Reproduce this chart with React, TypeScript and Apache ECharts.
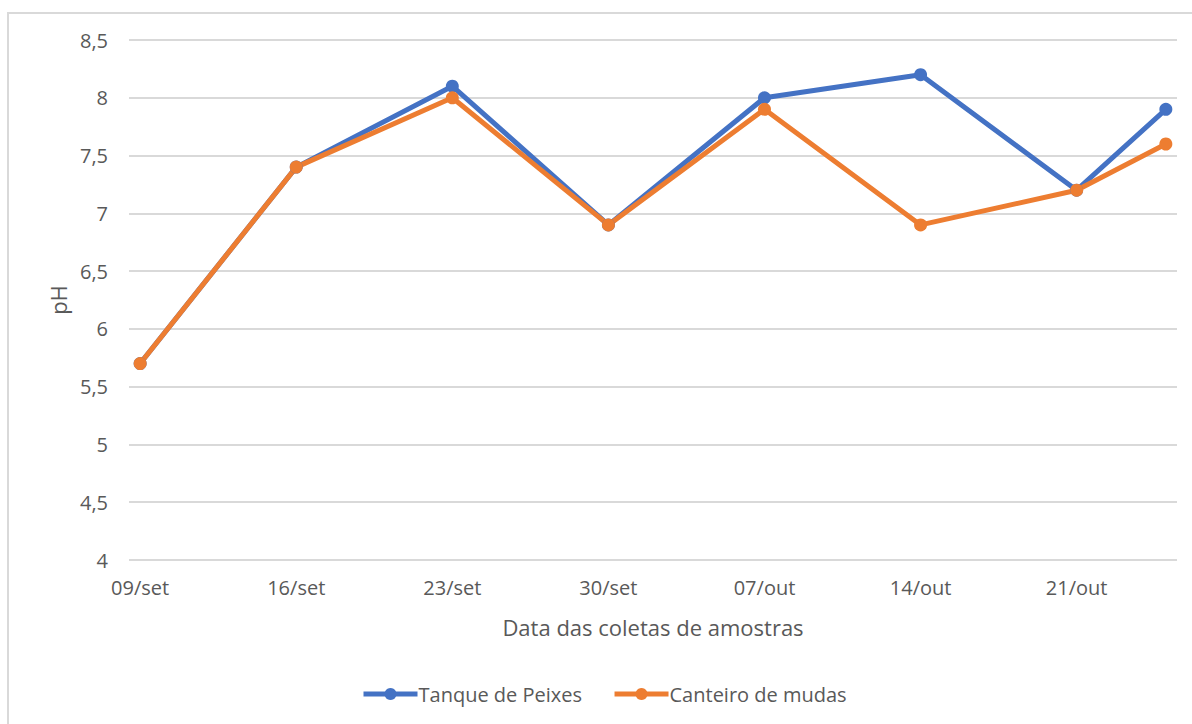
import React, { useEffect, useRef } from "react";
import * as echarts from "echarts";

const dates = ["2021-09-09", "2021-09-16", "2021-09-23", "2021-09-30", "2021-10-07", "2021-10-14", "2021-10-21", "2021-10-25"];
const tickDates = ["2021-09-09", "2021-09-16", "2021-09-23", "2021-09-30", "2021-10-07", "2021-10-14", "2021-10-21"];
const tickLabels = ["09/set", "16/set", "23/set", "30/set", "07/out", "14/out", "21/out"];
const tanque = [5.7, 7.4, 8.1, 6.9, 8.0, 8.2, 7.2, 7.9];
const canteiro = [5.7, 7.4, 8.0, 6.9, 7.9, 6.9, 7.2, 7.6];

const DAY = 86400000;
const t0 = Date.parse(dates[0]);
const dayOf = (d: string) => Math.round((Date.parse(d) - t0) / DAY);
const xs = dates.map(dayOf);
const tickXs = tickDates.map(dayOf);

const FONT = "'Open Sans', 'Noto Sans', sans-serif";
const GRAY = "#595959";

export default function App() {
  const ref = useRef<HTMLDivElement>(null);
  useEffect(() => {
    document.body.style.margin = "0";
    const chart = echarts.init(ref.current!, null, { renderer: "svg" });
    chart.setOption({
      animation: false,
      backgroundColor: "#fff",
      textStyle: { fontFamily: FONT },
      graphic: [
        {
          type: "polyline",
          shape: { points: [[8, 730], [8, 13], [1200, 13]] },
          style: { fill: "none", stroke: "#d9d9d9", lineWidth: 2 },
          silent: true,
        },
      ],
      grid: { left: 129, right: 15, top: 40, bottom: 164 },
      xAxis: {
        type: "value",
        min: -0.5,
        max: xs[xs.length - 1] + 0.5,
        name: "Data das coletas de amostras",
        nameLocation: "middle",
        nameGap: 56,
        nameTextStyle: { color: GRAY, fontSize: 22, fontFamily: FONT },
        axisLine: { show: false },
        axisTick: { show: false },
        splitLine: { show: false },
        axisLabel: {
          customValues: tickXs,
          color: GRAY,
          fontSize: 20,
          fontFamily: FONT,
          margin: 17,
          formatter: (v: number) => {
            const i = tickXs.indexOf(Math.round(v));
            return i >= 0 ? tickLabels[i] : "";
          },
        },
      },
      yAxis: {
        type: "value",
        min: 4,
        max: 8.5,
        interval: 0.5,
        name: "pH",
        nameLocation: "middle",
        nameGap: 55,
        nameRotate: 90,
        nameTextStyle: { color: GRAY, fontSize: 22, fontFamily: FONT },
        axisLine: { show: false },
        axisTick: { show: false },
        splitLine: { lineStyle: { color: "#d9d9d9", width: 2 } },
        axisLabel: {
          color: GRAY,
          fontSize: 20,
          fontFamily: FONT,
          margin: 21,
          formatter: (v: number) => String(v).replace(".", ","),
        },
      },
      legend: {
        bottom: 15,
        left: 356,
        itemWidth: 54,
        itemHeight: 15,
        itemGap: 30,
        lineStyle: { width: 5 },
        textStyle: { color: GRAY, fontSize: 20, fontFamily: FONT, padding: [0, 0, 0, -4] },
        data: ["Tanque de Peixes", "Canteiro de mudas"],
      },
      series: [
        {
          name: "Tanque de Peixes",
          type: "line",
          data: xs.map((x, i) => [x, tanque[i]]),
          color: "#4472C4",
          lineStyle: { width: 5, color: "#4472C4" },
          symbol: "circle",
          symbolSize: 13,
          itemStyle: { color: "#4472C4" },
        },
        {
          name: "Canteiro de mudas",
          type: "line",
          data: xs.map((x, i) => [x, canteiro[i]]),
          color: "#ED7D31",
          lineStyle: { width: 5, color: "#ED7D31" },
          symbol: "circle",
          symbolSize: 13,
          itemStyle: { color: "#ED7D31" },
        },
      ],
    });
    return () => chart.dispose();
  }, []);
  return <div ref={ref} style={{ width: 1192, height: 724 }} />;
}
